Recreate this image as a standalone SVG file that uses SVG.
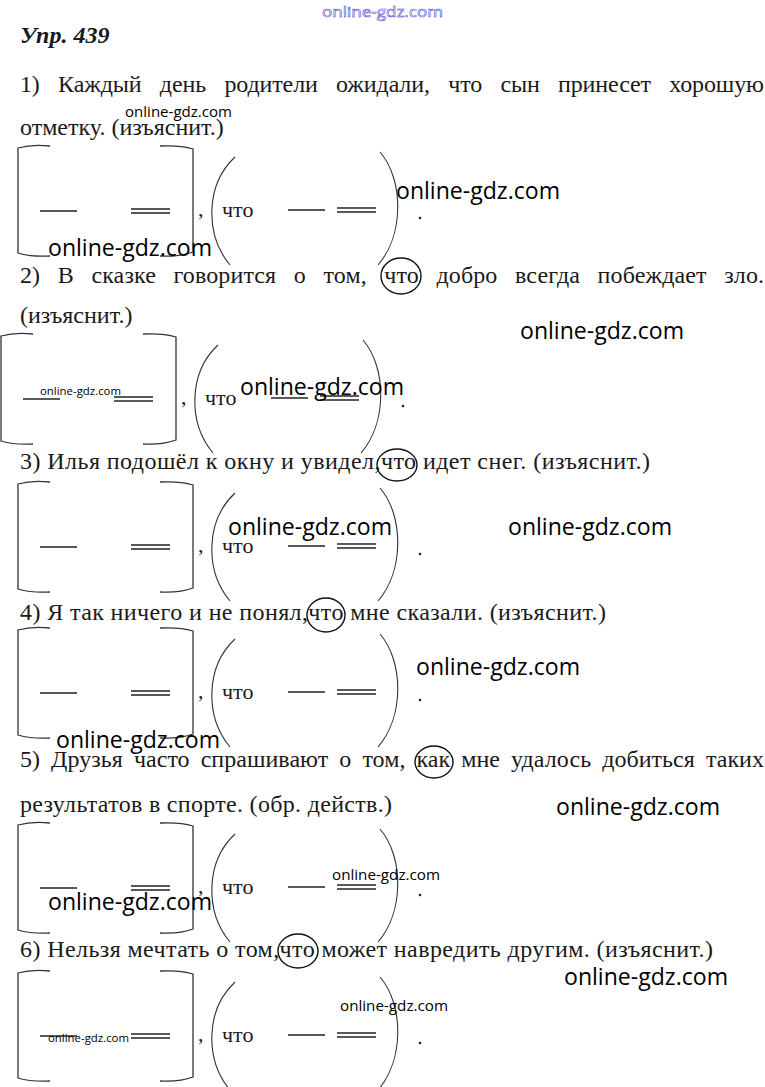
<svg xmlns="http://www.w3.org/2000/svg" xmlns:xlink="http://www.w3.org/1999/xlink" width="765" height="1087" viewBox="0 0 765 1087">
<style>
.t{font-family:"Liberation Serif","Times New Roman",serif;font-size:24px;fill:#1a1a1a}
.c{font-family:"Liberation Serif","Times New Roman",serif;font-size:22px;fill:#1a1a1a}
.w{font-family:"Open Sans","Noto Sans",sans-serif;fill:#000}
.wl{font-size:23px}
.ws{font-size:15px}
.wt{font-size:11.5px}
.ln{stroke:#222;stroke-width:1.3;fill:none}
.br{stroke:#333;stroke-width:1.3;fill:none}
.pr{stroke:#333;stroke-width:1.1;fill:none}
.ov{stroke:#111;stroke-width:1.4;fill:none}
</style>
<defs>
<g id="scheme">
<path class="br" d="M50 146 Q32 144 18 148 L18 253 Q32 257 50 256"/>
<path class="br" d="M160 146 Q180 145 193 149 L193 252 Q180 257 160 256"/>
<line class="ln" x1="40" y1="211" x2="77" y2="211"/>
<line class="ln" x1="131" y1="209" x2="170" y2="209"/>
<line class="ln" x1="131" y1="213" x2="170" y2="213"/>
<text class="c" x="198" y="216">,</text>
<path class="pr" d="M235 157 C205 185 205 235 230 265"/>
<path class="pr" d="M380 152 C404 180 404 235 378 265"/>
<text class="c" x="222" y="217">что</text>
<line class="ln" x1="288" y1="210" x2="325" y2="210"/>
<line class="ln" x1="337" y1="208" x2="376" y2="208"/>
<line class="ln" x1="337" y1="212" x2="376" y2="212"/>
<circle cx="420" cy="218" r="1.3" fill="#222"/>
</g>
</defs>
<rect width="765" height="1087" fill="#fff"/>

<g id="heading">
<text x="20" y="43" style="font-family:'Liberation Serif','Times New Roman',serif;font-size:24px;font-weight:bold;font-style:italic" fill="#1a1a1a">Упр. 439</text>
</g>

<g id="sentence1" class="t">
<text x="20" y="92" word-spacing="12.5" textLength="744" lengthAdjust="spacing">1) Каждый день родители ожидали, что сын принесет хорошую</text>
<text x="20" y="135">отметку. (изъяснит.)</text>
</g>
<g id="scheme1"><use xlink:href="#scheme" href="#scheme"/></g>

<g id="sentence2" class="t">
<text x="20" y="283" word-spacing="11.4" textLength="744" lengthAdjust="spacing">2) В сказке говорится о том, что добро всегда побеждает зло.</text>
<text x="20" y="323">(изъяснит.)</text>
</g>
<ellipse class="ov" cx="401" cy="276" rx="20" ry="18"/>
<g id="scheme2"><use xlink:href="#scheme" href="#scheme" transform="translate(-17,188)"/></g>

<g id="sentence3" class="t">
<text x="20" y="469" textLength="630" lengthAdjust="spacing">3) Илья подошёл к окну и увидел,что идет снег. (изъяснит.)</text>
</g>
<ellipse class="ov" cx="397" cy="465" rx="20" ry="16"/>
<g id="scheme3"><use xlink:href="#scheme" href="#scheme" transform="translate(0,336)"/></g>

<g id="sentence4" class="t">
<text x="20" y="620" textLength="586" lengthAdjust="spacing">4) Я так ничего и не понял,что мне сказали. (изъяснит.)</text>
</g>
<ellipse class="ov" cx="326" cy="615" rx="19" ry="17"/>
<g id="scheme4"><use xlink:href="#scheme" href="#scheme" transform="translate(0,482)"/></g>

<g id="sentence5" class="t">
<text x="20" y="767" word-spacing="5" textLength="744" lengthAdjust="spacing">5) Друзья часто спрашивают о том, как мне удалось добиться таких</text>
<text x="20" y="812" textLength="372" lengthAdjust="spacing">результатов в спорте. (обр. действ.)</text>
</g>
<ellipse class="ov" cx="434" cy="762" rx="19" ry="16"/>
<g id="scheme5"><use xlink:href="#scheme" href="#scheme" transform="translate(0,677)"/></g>

<g id="sentence6" class="t">
<text x="20" y="957" textLength="693" lengthAdjust="spacing">6) Нельзя мечтать о том,что может навредить другим. (изъяснит.)</text>
</g>
<ellipse class="ov" cx="298" cy="951" rx="20" ry="17"/>
<g id="scheme6"><use xlink:href="#scheme" href="#scheme" transform="translate(0,825)"/></g>

<g id="watermarks" class="w">
<text x="322" y="17" textLength="121" lengthAdjust="spacingAndGlyphs" style="font-size:15px;fill:#fff;stroke:#3a3ad0;stroke-width:0.5">online-gdz.com</text>
<text class="ws" x="125" y="117" textLength="107" lengthAdjust="spacingAndGlyphs">online-gdz.com</text>
<text class="wl" x="396" y="199" textLength="164" lengthAdjust="spacingAndGlyphs">online-gdz.com</text>
<text class="wl" x="48" y="256" textLength="164" lengthAdjust="spacingAndGlyphs">online-gdz.com</text>
<text class="wl" x="520" y="339" textLength="164" lengthAdjust="spacingAndGlyphs">online-gdz.com</text>
<text class="wt" x="40" y="395" textLength="81" lengthAdjust="spacingAndGlyphs">online-gdz.com</text>
<text class="wl" x="240" y="395" textLength="164" lengthAdjust="spacingAndGlyphs">online-gdz.com</text>
<text class="wl" x="228" y="535" textLength="164" lengthAdjust="spacingAndGlyphs">online-gdz.com</text>
<text class="wl" x="508" y="535" textLength="164" lengthAdjust="spacingAndGlyphs">online-gdz.com</text>
<text class="wl" x="416" y="675" textLength="164" lengthAdjust="spacingAndGlyphs">online-gdz.com</text>
<text class="wl" x="56" y="748" textLength="164" lengthAdjust="spacingAndGlyphs">online-gdz.com</text>
<text class="wl" x="556" y="815" textLength="164" lengthAdjust="spacingAndGlyphs">online-gdz.com</text>
<text class="ws" x="332" y="880" textLength="108" lengthAdjust="spacingAndGlyphs">online-gdz.com</text>
<text class="wl" x="48" y="910" textLength="164" lengthAdjust="spacingAndGlyphs">online-gdz.com</text>
<text class="wl" x="564" y="985" textLength="164" lengthAdjust="spacingAndGlyphs">online-gdz.com</text>
<text class="ws" x="340" y="1011" textLength="108" lengthAdjust="spacingAndGlyphs">online-gdz.com</text>
<text class="wt" x="48" y="1042" textLength="81" lengthAdjust="spacingAndGlyphs">online-gdz.com</text>
</g>
</svg>
